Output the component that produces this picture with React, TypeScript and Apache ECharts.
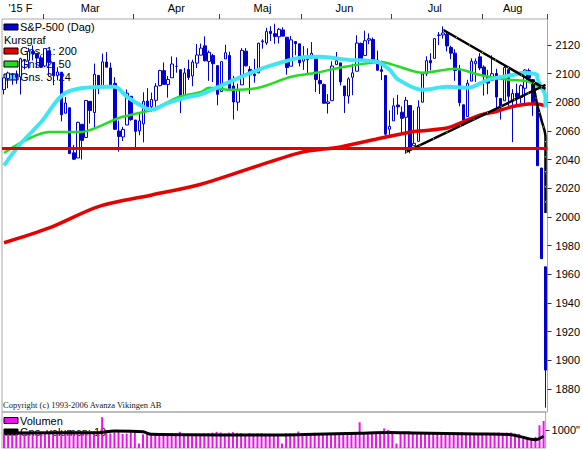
import React, { useEffect, useRef } from "react";
import * as echarts from "echarts";

// trading days per month (2015)
const monthDays: [string, number[]][] = [
  ["02", [13, 17, 18, 19, 20, 23, 24, 25, 26, 27]],
  ["03", [2, 3, 4, 5, 6, 9, 10, 11, 12, 13, 16, 17, 18, 19, 20, 23, 24, 25, 26, 27, 30, 31]],
  ["04", [1, 2, 6, 7, 8, 9, 10, 13, 14, 15, 16, 17, 20, 21, 22, 23, 24, 27, 28, 29, 30]],
  ["05", [1, 4, 5, 6, 7, 8, 11, 12, 13, 14, 15, 18, 19, 20, 21, 22, 26, 27, 28, 29]],
  ["06", [1, 2, 3, 4, 5, 8, 9, 10, 11, 12, 15, 16, 17, 18, 19, 22, 23, 24, 25, 26, 29, 30]],
  ["07", [1, 2, 6, 7, 8, 9, 10, 13, 14, 15, 16, 17, 20, 21, 22, 23, 24, 27, 28, 29, 30, 31]],
  ["08", [3, 4, 5, 6, 7, 10, 11, 12, 13, 14, 17, 18, 19, 20, 21, 24]],
];
const dates = monthDays.flatMap(([m, ds]) => ds.map((d) => `2015-${m}-${String(d).padStart(2, "0")}`));

const monthLabels = ["'15 F", "Mar", "Apr", "Maj", "Jun", "Jul", "Aug"];
const monthLabelIdx = [4, 21, 42, 63, 83, 105, 124];
const monthStartIdx = [10, 32, 53, 73, 95, 117];

const priceTicks = [1880, 1900, 1920, 1940, 1960, 1980, 2000, 2020, 2040, 2060, 2080, 2100, 2120];
const volumeTicks = [1000];

// [open, close, low, high]
const candles = [
  [2088.8, 2096.99, 2085.4, 2097.0],
  [2096.5, 2100.34, 2089.8, 2101.3],
  [2099.2, 2099.68, 2092.1, 2100.2],
  [2099.3, 2097.45, 2092.8, 2102.1],
  [2097.6, 2110.3, 2085.4, 2111.0],
  [2109.8, 2109.66, 2102.9, 2110.1],
  [2109.1, 2115.48, 2103.4, 2117.9],
  [2115.3, 2113.86, 2109.1, 2119.6],
  [2113.9, 2110.74, 2103.8, 2113.9],
  [2110.9, 2104.5, 2103.8, 2112.7],
  [2105.2, 2117.39, 2104.4, 2117.5],
  [2115.8, 2107.78, 2098.3, 2115.8],
  [2107.7, 2098.53, 2091.9, 2107.7],
  [2098.5, 2101.04, 2095.2, 2104.3],
  [2100.9, 2071.26, 2066.6, 2100.9],
  [2072.3, 2079.43, 2072.3, 2083.5],
  [2076.1, 2044.16, 2044.1, 2076.1],
  [2044.7, 2040.24, 2039.7, 2050.1],
  [2041.1, 2065.95, 2041.1, 2066.4],
  [2064.6, 2053.4, 2040.0, 2064.6],
  [2055.4, 2081.19, 2055.4, 2081.4],
  [2080.6, 2074.28, 2065.1, 2080.6],
  [2072.8, 2099.5, 2061.2, 2106.9],
  [2098.7, 2089.27, 2085.6, 2098.7],
  [2090.3, 2108.1, 2090.3, 2113.9],
  [2108.0, 2104.42, 2104.4, 2114.9],
  [2103.9, 2091.5, 2091.2, 2107.6],
  [2093.1, 2061.05, 2061.0, 2097.4],
  [2059.9, 2056.15, 2045.5, 2067.2],
  [2055.8, 2061.02, 2052.9, 2062.8],
  [2064.1, 2086.24, 2064.1, 2088.9],
  [2084.1, 2067.89, 2067.0, 2084.1],
  [2067.6, 2059.69, 2048.4, 2067.6],
  [2060.0, 2066.96, 2057.0, 2072.2],
  [2064.9, 2080.62, 2052.0, 2086.9],
  [2080.8, 2076.33, 2076.3, 2089.8],
  [2076.9, 2081.9, 2073.3, 2086.7],
  [2081.3, 2091.18, 2074.1, 2093.3],
  [2091.5, 2102.06, 2091.1, 2102.6],
  [2102.0, 2092.43, 2092.3, 2107.7],
  [2092.3, 2095.84, 2083.2, 2098.3],
  [2097.0, 2106.63, 2097.0, 2111.9],
  [2105.0, 2104.99, 2100.6, 2111.3],
  [2102.6, 2081.18, 2072.4, 2102.6],
  [2084.1, 2100.4, 2084.1, 2103.9],
  [2102.8, 2097.29, 2095.5, 2109.6],
  [2098.3, 2107.96, 2091.1, 2109.6],
  [2107.2, 2112.93, 2103.8, 2120.5],
  [2112.8, 2117.69, 2112.8, 2120.9],
  [2119.3, 2108.92, 2108.4, 2125.9],
  [2108.4, 2114.76, 2094.9, 2116.0],
  [2112.5, 2106.85, 2094.0, 2113.7],
  [2105.5, 2085.51, 2077.8, 2105.5],
  [2087.4, 2108.29, 2087.4, 2108.4],
  [2110.2, 2114.49, 2110.2, 2120.0],
  [2112.6, 2089.46, 2088.9, 2115.2],
  [2091.3, 2080.15, 2067.9, 2098.4],
  [2080.0, 2088.0, 2074.0, 2092.9],
  [2092.1, 2116.1, 2092.1, 2117.7],
  [2115.6, 2105.33, 2104.9, 2117.7],
  [2102.9, 2099.12, 2085.7, 2105.1],
  [2099.6, 2098.48, 2093.6, 2110.2],
  [2100.4, 2121.1, 2100.4, 2121.5],
  [2122.1, 2122.73, 2117.3, 2123.9],
  [2121.3, 2129.2, 2120.0, 2131.8],
  [2129.5, 2127.83, 2122.6, 2133.0],
  [2127.8, 2125.85, 2120.7, 2134.7],
  [2125.6, 2130.82, 2121.0, 2131.8],
  [2130.4, 2126.06, 2126.0, 2132.2],
  [2125.3, 2104.2, 2099.2, 2125.3],
  [2105.1, 2123.48, 2105.1, 2126.2],
  [2122.3, 2120.79, 2112.7, 2122.3],
  [2120.7, 2107.39, 2104.9, 2120.7],
  [2108.6, 2111.73, 2102.5, 2119.1],
  [2110.4, 2109.6, 2099.1, 2117.6],
  [2110.6, 2114.07, 2110.6, 2121.9],
  [2112.4, 2095.84, 2087.0, 2112.9],
  [2095.1, 2092.83, 2085.7, 2100.0],
  [2092.3, 2079.28, 2079.1, 2093.0],
  [2079.1, 2080.15, 2072.1, 2085.6],
  [2081.1, 2105.2, 2081.1, 2108.5],
  [2106.2, 2108.86, 2106.2, 2115.0],
  [2107.4, 2094.11, 2091.7, 2107.4],
  [2091.3, 2084.43, 2072.5, 2091.3],
  [2084.3, 2096.29, 2079.0, 2097.4],
  [2097.4, 2100.44, 2084.9, 2106.8],
  [2101.6, 2121.24, 2101.6, 2126.7],
  [2121.0, 2109.99, 2109.2, 2121.6],
  [2112.5, 2122.85, 2112.5, 2129.9],
  [2123.2, 2124.2, 2120.5, 2128.0],
  [2123.7, 2108.58, 2108.5, 2125.1],
  [2109.4, 2102.31, 2101.9, 2116.0],
  [2102.6, 2101.49, 2095.4, 2108.9],
  [2098.6, 2057.64, 2056.6, 2098.6],
  [2061.2, 2063.11, 2056.3, 2074.3],
  [2067.0, 2077.42, 2067.0, 2082.8],
  [2078.0, 2076.78, 2071.3, 2085.1],
  [2073.0, 2068.76, 2058.4, 2077.0],
  [2069.5, 2081.34, 2044.0, 2083.7],
  [2077.7, 2046.68, 2044.4, 2077.7],
  [2049.7, 2051.31, 2049.7, 2074.3],
  [2052.7, 2076.62, 2052.7, 2081.3],
  [2080.0, 2099.6, 2080.0, 2100.7],
  [2099.7, 2108.95, 2098.2, 2112.0],
  [2109.0, 2107.4, 2102.2, 2114.2],
  [2110.6, 2124.29, 2110.6, 2124.4],
  [2126.8, 2126.64, 2119.9, 2128.9],
  [2126.9, 2128.28, 2124.3, 2132.8],
  [2127.2, 2119.21, 2115.4, 2128.9],
  [2118.2, 2114.15, 2110.0, 2119.4],
  [2114.2, 2102.15, 2094.9, 2116.9],
  [2102.2, 2079.65, 2077.1, 2106.0],
  [2078.2, 2067.64, 2063.5, 2078.2],
  [2070.0, 2093.25, 2070.0, 2095.6],
  [2094.7, 2108.57, 2094.7, 2110.6],
  [2106.8, 2108.63, 2094.1, 2110.5],
  [2111.6, 2103.84, 2102.3, 2114.2],
  [2104.5, 2098.04, 2084.6, 2105.7],
  [2097.7, 2093.32, 2085.6, 2102.6],
  [2095.3, 2099.84, 2095.3, 2112.7],
  [2100.0, 2083.56, 2075.6, 2103.3],
  [2082.6, 2077.57, 2067.9, 2082.6],
  [2081.0, 2104.18, 2081.0, 2105.4],
  [2102.7, 2084.07, 2076.5, 2102.7],
  [2081.1, 2086.05, 2052.1, 2089.1],
  [2086.2, 2083.39, 2076.9, 2092.9],
  [2083.2, 2091.54, 2079.3, 2092.5],
  [2089.7, 2102.44, 2079.3, 2102.9],
  [2102.0, 2096.92, 2094.1, 2103.5],
  [2095.7, 2079.61, 2070.5, 2096.2],
  [2076.6, 2035.73, 2035.7, 2076.6],
  [2034.1, 1970.89, 1970.8, 2034.1],
  [1965.2, 1893.21, 1867.0, 1965.2],
];

// moving averages: [day index, value]
const ma200 = [
  [-0.4, 1982], [11.2, 1992.3], [23.4, 2007.2], [35.5, 2015.3], [47.7, 2022.8], [72, 2044.7],
  [81.7, 2048.8], [91.5, 2055], [99.5, 2059.5], [107.7, 2062], [111.6, 2066.5], [115.8, 2071],
  [119.9, 2073.5], [123.8, 2077], [127.9, 2078.8], [130.4, 2078.8], [132.4, 2077.4],
];
const ma50 = [
  [-0.4, 2044.6], [10.5, 2059.3], [19.2, 2059.3], [23.4, 2062.8], [27.5, 2069], [35.5, 2074.7],
  [41.1, 2081.6], [42.8, 2084], [47.7, 2087.2], [50.1, 2090], [55, 2088.6], [62.3, 2090],
  [69.6, 2097.7], [76.1, 2100.5], [82.5, 2104.7], [91.5, 2108.1], [96.3, 2105], [101.9, 2100.5],
  [110.2, 2103.3], [115.8, 2099], [123.1, 2095.6], [127.9, 2094.2], [132.4, 2087.2],
];
const ma24 = [
  [-0.4, 2036], [3.9, 2051], [8.8, 2066], [15.3, 2086.5], [25.1, 2090.7], [26.5, 2090.7],
  [29.9, 2083.7], [33.8, 2076.7], [36.3, 2074.7], [40.4, 2079.5], [44.5, 2083.7], [47.7, 2085.5],
  [55, 2094.2], [62.3, 2102.6], [67.8, 2108.1], [72, 2110.9], [76.9, 2111.6], [84.2, 2109.5],
  [90.7, 2108], [93.9, 2102.6], [96.3, 2096], [101.9, 2088.6], [107.7, 2090.7], [112.6, 2090],
  [118.2, 2095.6], [123.8, 2099], [127.2, 2100.5], [129.6, 2099], [130.4, 2097.7],
  [131.6, 2083.7], [132.1, 2076.7],
];

// drawn trend lines and support level
const supportLevel = 2048;
const trendDown = [[106.8, 2130.5], [132.1, 2089.3]];
const trendUp = [[98.3, 2045.3], [132.1, 2092]];
const trendDrop = [[128.7, 2093.5], [129.9, 2078.1], [131.1, 2067.7], [132.1, 2055.8], [132.2, 2034.9], [132.3, 2002.8]];

// volume
const volume = [
  820, 860, 800, 790, 880, 780, 830, 850, 860, 840,
  850, 870, 860, 820, 900, 810, 930, 900, 860, 870, 880, 900, 920, 880, 1714, 820, 810, 880, 900, 780, 800, 870,
  850, 250, 760, 790, 780, 760, 770, 750, 790, 820, 800, 900, 780, 800, 790, 810, 770, 820, 830, 850, 900,
  860, 800, 850, 880, 840, 820, 780, 830, 800, 820, 830, 800, 790, 780, 760, 250, 820, 800, 780, 914,
  800, 820, 810, 840, 800, 780, 790, 810, 780, 760, 780, 760, 790, 800, 1430, 780, 790, 800, 820, 880, 1090, 1000,
  820, 250, 880, 900, 920, 860, 820, 800, 810, 820, 830, 850, 780, 820, 830, 850, 860, 870, 840, 850, 820, 800,
  840, 820, 830, 850, 860, 820, 850, 860, 800, 780, 520, 450, 570, 620, 1260, 1500,
];
const volumeAvg = [
  [-0.4, 840], [23.4, 850], [26.5, 950], [33.8, 900], [36.3, 760], [67.8, 720], [76.1, 760],
  [87, 820], [93.9, 860], [99.5, 840], [115.8, 780], [123.8, 740], [129.6, 460], [132.4, 650],
];

const FONT = '"Liberation Sans", Arial, sans-serif';

function legendRow(y: number, text: string, color: string | null, textX = 20) {
  const els: any[] = [];
  if (color) {
    els.push({
      type: "rect",
      z: 1,
      shape: { x: 4, y: y - 3, width: 14, height: 6 },
      style: { fill: color, stroke: "#000", lineWidth: 1 },
    });
  }
  els.push({
    type: "text",
    z: 1,
    x: textX,
    y,
    style: { text, fill: "#000", fontSize: 11, fontFamily: FONT, verticalAlign: "middle" },
  });
  return els;
}

export default function App() {
  const ref = useRef<HTMLDivElement>(null);
  useEffect(() => {
    const chart = echarts.init(ref.current!, null, { renderer: "svg" });
    const option: any = {
      animation: false,
      backgroundColor: "#ffffff",
      textStyle: { fontFamily: FONT },
      grid: [
        { left: 2, right: 34.2, top: 19, bottom: 38, show: true, borderColor: "#a8a8a8", borderWidth: 1 },
        { left: 2, right: 34.2, top: 412, bottom: 2, show: true, borderColor: "#a8a8a8", borderWidth: 1 },
      ],
      xAxis: [
        {
          type: "category",
          gridIndex: 0,
          position: "top",
          data: dates,
          boundaryGap: true,
          axisLine: { show: false },
          axisTick: {
            show: true,
            length: 5,
            interval: (i: number) => monthStartIdx.includes(i),
            lineStyle: { color: "#404040" },
          },
          axisLabel: {
            show: true,
            interval: (i: number) => monthLabelIdx.includes(i),
            formatter: (_v: string, i: number) => {
              const k = monthLabelIdx.indexOf(i);
              return k >= 0 ? monthLabels[k] : "";
            },
            margin: 6,
            fontSize: 11,
            color: "#000",
          },
          splitLine: { show: false },
        },
        { type: "category", gridIndex: 1, data: dates, boundaryGap: true, show: false },
      ],
      yAxis: [
        {
          type: "value",
          gridIndex: 0,
          position: "right",
          min: 1864,
          max: 2138,
          axisLine: { show: false },
          axisTick: { show: true, length: 4, customValues: priceTicks, lineStyle: { color: "#303030" } },
          axisLabel: {
            show: true,
            customValues: priceTicks,
            formatter: (v: number) => String(v),
            margin: 8,
            fontSize: 11,
            color: "#000",
          },
          splitLine: { show: false },
        },
        {
          type: "value",
          gridIndex: 1,
          position: "right",
          min: 0,
          max: 2000,
          axisLine: { show: false },
          axisTick: { show: true, length: 4, customValues: volumeTicks, lineStyle: { color: "#303030" } },
          axisLabel: {
            show: true,
            customValues: volumeTicks,
            formatter: (v: number) => `${v}"`,
            margin: 6,
            fontSize: 11,
            color: "#000",
          },
          splitLine: { show: false },
        },
      ],
      graphic: [
        ...legendRow(27, "S&P-500 (Dag)", "#0000d0"),
        ...legendRow(39.5, "Kursgraf", null, 4),
        ...legendRow(51, "Gns. 1: 200", "#e60000"),
        ...legendRow(64, "Gns. 2: 50", "#22dd22"),
        ...legendRow(77, "Gns. 3: 24", "#40e0f0"),
        ...legendRow(420.5, "Volumen", "#ee11ee"),
        ...legendRow(432, "Gns. volumen: 10", "#000000"),
        {
          type: "text",
          z: 1,
          x: 3,
          y: 405,
          style: {
            text: "Copyright (c) 1993-2006 Avanza Vikingen AB",
            fill: "#202020",
            fontSize: 8.5,
            fontFamily: '"Liberation Serif", "Times New Roman", serif',
            verticalAlign: "middle",
          },
        },
      ],
      series: [
        {
          name: "S&P-500 (Dag)",
          type: "candlestick",
          xAxisIndex: 0,
          yAxisIndex: 0,
          data: candles,
          barWidth: 3,
          itemStyle: {
            color: "#ffffff",
            color0: "#0000d0",
            borderColor: "#0000d0",
            borderColor0: "#0000d0",
            borderWidth: 1,
          },
          markLine: {
            silent: true,
            symbol: ["none", "none"],
            label: { show: false },
            lineStyle: { color: "#e60000", width: 3, type: "solid" },
            data: [{ yAxis: supportLevel }],
          },
        },
        {
          name: "Gns. 1: 200",
          type: "line",
          data: ma200,
          showSymbol: false,
          smooth: 0.3,
          z: 3,
          lineStyle: { color: "#e60000", width: 3.5 },
        },
        {
          name: "Gns. 2: 50",
          type: "line",
          data: ma50,
          showSymbol: false,
          smooth: 0.3,
          z: 3,
          lineStyle: { color: "#22dd22", width: 2.5 },
        },
        {
          name: "Gns. 3: 24",
          type: "line",
          data: ma24,
          showSymbol: false,
          smooth: 0.3,
          z: 3,
          lineStyle: { color: "#40e4f2", width: 4 },
        },
        ...[trendDown, trendUp, trendDrop].flatMap((d, k) => [
          {
            type: "line",
            data: d,
            showSymbol: false,
            smooth: k === 2 ? 0.3 : false,
            z: 4,
            lineStyle: { color: "#000000", width: 2.5 },
          },
          {
            type: "line",
            data: d,
            showSymbol: false,
            smooth: k === 2 ? 0.3 : false,
            z: 5,
            lineStyle: { color: "#ffff00", width: 1, type: [1, 14] },
          },
        ]),
        {
          name: "Volumen",
          type: "bar",
          xAxisIndex: 1,
          yAxisIndex: 1,
          data: volume,
          barWidth: 2,
          itemStyle: { color: "#ee11ee" },
        },
        {
          name: "Gns. volumen: 10",
          type: "line",
          xAxisIndex: 1,
          yAxisIndex: 1,
          data: volumeAvg,
          showSymbol: false,
          smooth: 0.3,
          z: 3,
          lineStyle: { color: "#000000", width: 3 },
        },
      ],
    };
    chart.setOption(option);
    return () => chart.dispose();
  }, []);
  return (
    <div
      ref={ref}
      style={{ position: "fixed", left: 0, top: 0, width: 583, height: 450, background: "#fff" }}
    />
  );
}
